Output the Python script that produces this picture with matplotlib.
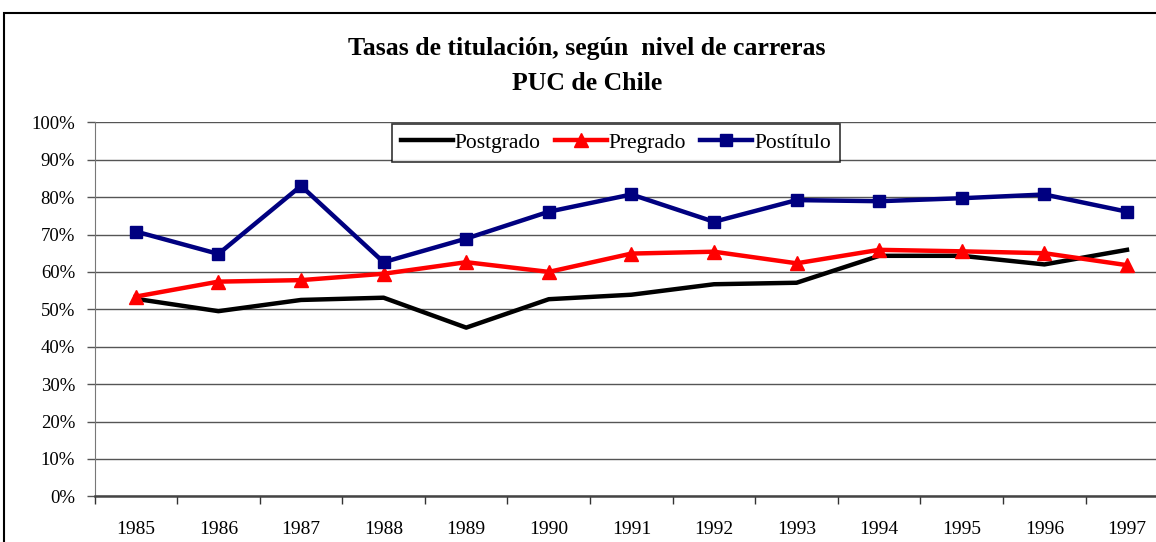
import matplotlib.pyplot as plt
from matplotlib.patches import Rectangle
from matplotlib.ticker import FixedLocator

# datos (%)
anios = ["1985", "1986", "1987", "1988", "1989", "1990", "1991",
         "1992", "1993", "1994", "1995", "1996", "1997"]
postgrado = [52.8, 49.5, 52.5, 53.1, 45.1, 52.7, 53.9, 56.7, 57.1, 64.3, 64.3, 62.0, 65.9]
pregrado = [53.4, 57.4, 57.8, 59.5, 62.6, 60.0, 64.9, 65.4, 62.3, 65.9, 65.5, 65.0, 61.8]
postitulo = [70.8, 64.8, 83.0, 62.6, 68.9, 76.1, 80.7, 73.4, 79.2, 78.9, 79.7, 80.7, 76.1]
y_ticks = list(range(0, 101, 10))

plt.rcParams['font.family'] = ['Liberation Serif', 'DejaVu Serif']

W, H = 1156, 542
fig = plt.figure(figsize=(W / 100, H / 100), dpi=100)

# marco exterior del gráfico (se sale por la derecha y abajo)
fig.patches.append(Rectangle((4 / W, -0.1), 1.2, (H - 13) / H + 0.1,
                             transform=fig.transFigure, fill=False,
                             edgecolor='black', linewidth=1.5, zorder=0))

# el área de trazado sigue más allá del borde derecho
left, bottom = 94.5 / W, (H - 496.3) / H
ax = fig.add_axes([left, bottom, 13 * 82.6 / W, 374 / H])

x = list(range(len(anios)))
ax.plot(x, postgrado, color='black', lw=3.2, label='Postgrado', zorder=3)
ax.plot(x, pregrado, color='#FF0000', lw=3.2, marker='^', ms=10.5,
        label='Pregrado', zorder=4)
ax.plot(x, postitulo, color='#000080', lw=3.2, marker='s', ms=9,
        label='Postítulo', zorder=5)

ax.set_xlim(-0.5, len(anios) - 0.5)
ax.set_ylim(0, 100)

ax.set_yticks(y_ticks)
ax.set_yticklabels([f"{v}%" for v in y_ticks], fontsize=13.5)
ax.tick_params(axis='y', direction='out', length=6, width=1, pad=8,
               color='#555555')
ax.yaxis.grid(True, color='#555555', lw=1)
ax.set_axisbelow(True)

ax.set_xticks(x)
ax.set_xticklabels(anios, fontsize=14)
ax.tick_params(axis='x', which='major', length=0, pad=18)
ax.xaxis.set_minor_locator(FixedLocator([i - 0.5 for i in range(len(anios) + 1)]))
ax.tick_params(axis='x', which='minor', direction='out', length=6, width=1,
               color='#333333')

for s in ['top', 'right']:
    ax.spines[s].set_visible(False)
ax.spines['left'].set_color('#777777')
ax.spines['bottom'].set_color('#444444')
ax.spines['bottom'].set_linewidth(1.8)

leg = ax.legend(loc='upper left', bbox_to_anchor=((392 - 94.5) / 1073.8, 1.0 - 1.5 / 374),
                ncol=3, frameon=True, fancybox=False, fontsize=15.5,
                handlelength=2.4, handletextpad=0.1, columnspacing=0.65,
                borderpad=0.42, borderaxespad=0.0)
leg.get_frame().set_edgecolor('black')
leg.get_frame().set_linewidth(1.2)

fig.text(587 / W, 1 - 49 / H, "Tasas de titulación, según  nivel de carreras",
         ha='center', va='center', fontsize=18.5, fontweight='bold')
fig.text(587 / W, 1 - 84 / H, "PUC de Chile",
         ha='center', va='center', fontsize=18.5, fontweight='bold')

fig.savefig("out.png", dpi=100)
